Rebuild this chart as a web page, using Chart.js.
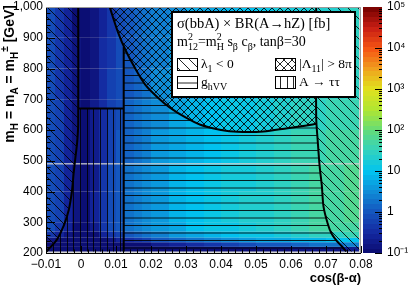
<!DOCTYPE html>
<html>
<head>
<meta charset="utf-8">
<script src="https://cdn.jsdelivr.net/npm/chart.js@4.4.1/dist/chart.umd.min.js"></script>
<style>
html, body { margin: 0; padding: 0; background: #fff; }
</style>
</head>
<body>
<canvas id="myChart" width="411" height="288"></canvas>
<script>
// bin edges of the heat map
const xEdges = [-0.01, -0.0075, -0.005, -0.0025, 0, 0.0025, 0.005, 0.0075, 0.01, 0.0125, 0.015, 0.0175,
  0.02, 0.025, 0.03, 0.035, 0.04, 0.045, 0.05, 0.055, 0.06, 0.065, 0.07, 0.075, 0.0795]
const massLow = [205, 220, 235, 250, 270, 300, 400, 492, 600, 700, 800, 900]
const massHigh = [220, 235, 250, 270, 300, 400, 488, 600, 700, 800, 900, 1000]

// sigma(bbA) x BR(A->hZ) in fb, one row per mass bin
const sigmaFb = [
  [0.1,0.1,0.1,0.1,0.1,0.1,0.1,0.1,0.1,0.1,0.1,0.1,0.1,0.1,0.1,0.1,0.1,0.11,0.12,0.13,0.14,0.15,0.17,0.18],
  [0.1,0.1,0.1,0.1,0.1,0.1,0.1,0.1,0.1,0.1,0.1,0.13,0.18,0.27,0.38,0.5,0.64,0.8,0.98,1.2,1.4,1.6,1.9,2.1],
  [0.16,0.1,0.1,0.1,0.1,0.1,0.1,0.16,0.24,0.36,0.48,0.64,0.92,1.4,1.9,2.5,3.2,4,4.9,5.9,7,8.1,9.4,10.6],
  [0.5,0.3,0.15,0.1,0.1,0.13,0.25,0.43,0.66,1,1.3,1.8,2.5,3.7,5.2,6.9,8.8,11,13.5,17,23,27,31,35],
  [0.8,0.5,0.25,0.12,0.1,0.21,0.4,0.7,1.1,1.6,2.2,2.9,4.1,6.1,8.6,11.3,14.4,18,22.1,29,38,44,51,57],
  [0.9,0.55,0.3,0.15,0.11,0.23,0.45,0.78,1.2,1.8,2.4,3.2,4.6,6.8,9.5,12.6,16,20,24.6,32,42,49,56,64],
  [0.9,0.55,0.3,0.15,0.1,0.22,0.43,0.74,1.1,1.7,2.3,3,4.4,6.5,9,12,15.2,19,23.4,31,40,46,54,60],
  [0.9,0.55,0.3,0.15,0.1,0.2,0.38,0.66,1,1.5,2,2.7,3.9,5.8,8.1,10.7,13.6,17,20.9,27,36,41,48,54],
  [0.9,0.55,0.3,0.15,0.1,0.18,0.35,0.6,0.9,1.3,1.7,2.3,3.3,4.9,6.8,9.1,11.5,14.4,17.7,22,27,31,35,39],
  [0.85,0.52,0.28,0.14,0.1,0.17,0.33,0.56,0.8,1.2,1.5,2,2.9,4.2,5.9,7.8,9.9,12.4,15.3,18.3,21.6,25.2,29.1,32.9],
  [0.85,0.5,0.27,0.14,0.1,0.16,0.31,0.52,0.75,1.1,1.4,1.8,2.5,3.7,5.2,6.9,8.8,11,13.5,16.2,19.2,22.3,25.8,29.2],
  [0.8,0.5,0.26,0.13,0.1,0.15,0.3,0.5,0.7,1,1.3,1.6,2.3,3.4,4.8,6.3,8,10,12.3,14.8,17.5,20.3,23.5,26.5]
]

// excluded regions, as [cos(b-a), mass] points
const lambdaLeftEdge = [[-0.0008,1000],[-0.0008,620],[-0.0011,560],[-0.0016,510],[-0.0021,460],[-0.0026,400],
  [-0.0035,340],[-0.0049,290],[-0.0068,245],[-0.0088,218],[-0.0098,205]]
const lambdaRightEdge = [[0.0672,1000],[0.0672,640],[0.0676,570],[0.0682,480],[0.0688,420],[0.0693,350],
  [0.0705,295],[0.0715,265],[0.073,240],[0.0745,222],[0.0758,205]]
const unitarityEdge = [[0.0082,1000],[0.0105,920],[0.0127,860],[0.0155,800],[0.0184,747],[0.022,705],
  [0.0255,672],[0.03,640],[0.0341,617],[0.04,600],[0.0447,594],[0.0521,595],[0.059,606],[0.064,614],[0.0672,620]]
const tautauTop = 670
const tautauRight = 0.0122
const ghvvTop = 870

const xTicks = [-0.01, 0, 0.01, 0.02, 0.03, 0.04, 0.05, 0.06, 0.07, 0.08]
const yTicks = [200, 300, 400, 500, 600, 700, 800, 900, 1000]
const zTicks = [0.1, 1, 10, 100, 1000, 10000, 100000]
const zLabels = ['10\u207B\u00B9', '1', '10', '10\u00B2', '10\u00B3', '10\u2074', '10\u2075']

const paletteStops = [[10,10,110],[20,40,160],[20,85,190],[15,140,215],[0,195,240],[50,210,190],[100,220,120],
  [175,230,50],[225,225,30],[240,160,30],[245,85,20],[200,30,20],[115,0,0]]
const nLevels = 50

function levelColour(level) {
  const g = (level + 0.5) / nLevels * (paletteStops.length - 1)
  const i = Math.floor(g), t = g - i
  const a = paletteStops[i], b = paletteStops[Math.min(i + 1, paletteStops.length - 1)]
  return 'rgb(' + a.map((c, k) => Math.round(c + (b[k] - c) * t)).join(',') + ')'
}
function colourFor(v) {
  const f = (Math.log10(v) + 1) / 6
  return levelColour(Math.min(nLevels - 1, Math.max(0, Math.floor(f * nLevels))))
}

function makePattern(kind) {
  const c = document.createElement('canvas')
  const g = c.getContext('2d')
  if (kind === 'diag') { c.width = 10; c.height = 10 }
  if (kind === 'cross') { c.width = 8; c.height = 8 }
  if (kind === 'horiz') { c.width = 4; c.height = 15 }
  if (kind === 'vert') { c.width = 20; c.height = 4 }
  g.strokeStyle = 'rgba(0,0,0,0.85)'
  g.lineWidth = 1
  g.beginPath()
  const w = c.width
  if (kind === 'diag' || kind === 'cross') {
    g.moveTo(-1, -1); g.lineTo(w + 1, w + 1)
    g.moveTo(w - 1, -1); g.lineTo(w + 1, 1)
    g.moveTo(-1, w - 1); g.lineTo(1, w + 1)
  }
  if (kind === 'cross') {
    g.moveTo(w + 1, -1); g.lineTo(-1, w + 1)
    g.moveTo(1, -1); g.lineTo(-1, 1)
    g.moveTo(w + 1, w - 1); g.lineTo(w - 1, w + 1)
  }
  if (kind === 'horiz') { g.moveTo(0, 0.5); g.lineTo(4, 0.5); g.moveTo(0, 8); g.lineTo(4, 8) }
  if (kind === 'vert') { [0.5, 7.5, 13.5].forEach(x => { g.moveTo(x, 0); g.lineTo(x, 4) }) }
  g.stroke()
  return g.createPattern(c, 'repeat')
}

// draws a list of [text, mode] parts; mode 0 normal, 1 superscript, -1 subscript, [sup, sub] stacked
function richText(ctx, parts, x, y, size, family, weight, measureOnly) {
  let cx = x
  const small = Math.round(size * 0.72)
  for (const [t, mode] of parts) {
    if (Array.isArray(mode)) {
      ctx.font = weight + ' ' + small + 'px ' + family
      const w = Math.max(ctx.measureText(mode[0]).width, ctx.measureText(mode[1]).width)
      if (!measureOnly) {
        ctx.fillText(mode[0], cx, y - size * 0.42)
        ctx.fillText(mode[1], cx, y + size * 0.28)
      }
      cx += w
      continue
    }
    const s = mode === 0 ? size : small
    ctx.font = weight + ' ' + s + 'px ' + family
    if (!measureOnly) ctx.fillText(t, cx, y + (mode === 1 ? -size * 0.42 : mode === -1 ? size * 0.28 : 0))
    cx += ctx.measureText(t).width
  }
  return cx - x
}

const heatPlugin = {
  id: 'heat',
  beforeDatasetsDraw(chart) {
    const { ctx, chartArea: a, scales: { x, y } } = chart
    const px = v => x.getPixelForValue(v), py = v => y.getPixelForValue(v)
    ctx.save()
    ctx.fillStyle = '#d2d2d2'
    ctx.fillRect(a.left, a.top, a.right - a.left, a.bottom - a.top)
    sigmaFb.forEach((row, r) => {
      const y0 = py(massHigh[r]), y1 = py(massLow[r])
      row.forEach((v, c) => {
        const x0 = Math.round(px(xEdges[c])), x1 = Math.round(px(xEdges[c + 1]))
        ctx.fillStyle = colourFor(v)
        ctx.fillRect(x0, y0, x1 - x0, y1 - y0)
      })
    })
    ctx.beginPath()
    ctx.rect(a.left, a.top, a.right - a.left, a.bottom - a.top)
    ctx.clip()
    const path = pts => {
      ctx.beginPath()
      pts.forEach(([vx, vm], i) => i ? ctx.lineTo(px(vx), py(vm)) : ctx.moveTo(px(vx), py(vm)))
      ctx.closePath()
    }
    const lastU = unitarityEdge[unitarityEdge.length - 1]
    const regions = [
      ['diag', [[-0.01, 1000], ...lambdaLeftEdge, [-0.01, 205]]],
      ['diag', [...lambdaRightEdge, [0.0795, 205], [0.0795, 1000]]],
      ['cross', [...unitarityEdge, [lambdaRightEdge[0][0], 1000]]],
      ['horiz', [[tautauRight, 205], [tautauRight, ghvvTop], ...unitarityEdge.filter(p => p[0] > tautauRight),
        ...lambdaRightEdge.filter(p => p[1] < lastU[1])]],
      ['vert', [[lambdaLeftEdge[0][0], tautauTop], [tautauRight, tautauTop], [tautauRight, 205],
        ...lambdaLeftEdge.filter(p => p[1] < tautauTop).reverse()]]
    ]
    regions.forEach(([kind, pts]) => {
      path(pts)
      ctx.fillStyle = makePattern(kind)
      ctx.fill()
    })
    ctx.restore()
  },
  afterDraw(chart) {
    const { ctx, chartArea: a, scales: { x, y, z } } = chart
    ctx.save()
    // frame and ticks
    ctx.strokeStyle = '#000'
    ctx.lineWidth = 1
    ctx.beginPath()
    ctx.moveTo(a.left + 0.5, a.top); ctx.lineTo(a.left + 0.5, a.bottom + 0.5); ctx.lineTo(a.right, a.bottom + 0.5)
    for (let v = -0.01; v <= 0.0801; v += 0.002) {
      const p = Math.round(x.getPixelForValue(v)) + 0.5
      const major = Math.abs(v * 100 - Math.round(v * 100)) < 1e-6
      const len = major ? 7 : 3.5
      ctx.moveTo(p, a.bottom); ctx.lineTo(p, a.bottom - len)
    }
    for (let v = 200; v <= 1000; v += 20) {
      const p = Math.round(y.getPixelForValue(v)) + 0.5
      const len = v % 100 === 0 ? 9 : 4.5
      ctx.moveTo(a.left, p); ctx.lineTo(a.left + len, p)
    }
    ctx.stroke()
    ctx.strokeStyle = '#999'
    ctx.beginPath()
    ctx.moveTo(a.left, a.top + 0.5); ctx.lineTo(a.right - 0.5, a.top + 0.5); ctx.lineTo(a.right - 0.5, a.bottom)
    ctx.stroke()

    // colour bar
    const bx = a.right + 2, bw = 19
    for (let l = 0; l < nLevels; l++) {
      const t0 = z.getPixelForValue(Math.pow(10, -1 + (l + 1) * 6 / nLevels))
      const t1 = z.getPixelForValue(Math.pow(10, -1 + l * 6 / nLevels))
      ctx.fillStyle = levelColour(l)
      ctx.fillRect(bx, Math.floor(t0), bw, Math.ceil(t1) - Math.floor(t0))
    }
    ctx.strokeStyle = '#000'
    ctx.beginPath()
    for (let e = -1; e < 5; e++) {
      for (let m = 1; m < 10; m++) {
        const p = Math.round(z.getPixelForValue(m * Math.pow(10, e))) + 0.5
        const len = m === 1 ? 7 : 3
        ctx.moveTo(bx + bw, p); ctx.lineTo(bx + bw - len, p)
      }
    }
    ctx.stroke()

    // axis titles
    ctx.fillStyle = '#000'
    ctx.textBaseline = 'alphabetic'
    ctx.textAlign = 'left'
    const sans = 'Liberation Sans, Arial, sans-serif'
    const xt = [['cos(\u03B2-\u03B1)', 0]]
    const xw = richText(ctx, xt, 0, 0, 13, sans, 'bold', true)
    richText(ctx, xt, a.right - xw, 282, 13, sans, 'bold')
    const yt = [['m', 0], ['H', -1], [' = m', 0], ['A', -1], [' = m', 0], ['H', -1], ['\u00B1', 1], [' [GeV]', 0]]
    const yw = richText(ctx, yt, 0, 0, 14, sans, 'bold', true)
    ctx.translate(14, 0)
    ctx.rotate(-Math.PI / 2)
    richText(ctx, yt, -5 - yw, 0, 14, sans, 'bold')
    ctx.setTransform(1, 0, 0, 1, 0, 0)

    // legend
    const lx = 172, ly = 12, lw = 183, lh = 85
    ctx.fillStyle = '#fff'
    ctx.fillRect(lx, ly, lw, lh)
    ctx.lineWidth = 2
    ctx.strokeRect(lx, ly, lw, lh)
    ctx.fillStyle = '#000'
    const serif = 'Liberation Serif, Times New Roman, serif'
    richText(ctx, [['\u03C3(bbA) \u00D7 BR(A\u2192hZ) [fb]', 0]], 177, 28, 14.5, serif, 'normal')
    richText(ctx, [['m', 0], ['', ['2', '12']], ['=m', 0], ['', ['2', 'H']], [' s', 0], ['\u03B2', -1], [' c', 0],
      ['\u03B2', -1], [', tan\u03B2=30', 0]], 177, 46, 14, serif, 'normal')
    const entries = [
      ['diag', 177, 58, [['\u03BB', 0], ['1', -1], [' < 0', 0]]],
      ['cross', 275, 58, [['|\u039B', 0], ['11', -1], ['| > 8\u03C0', 0]]],
      ['horiz', 177, 76, [['g', 0], ['hVV', -1]]],
      ['vert', 275, 76, [['A \u2192 \u03C4\u03C4', 0]]]
    ]
    ctx.lineWidth = 1
    entries.forEach(([kind, ex, ey, txt]) => {
      ctx.fillStyle = '#fff'
      ctx.fillRect(ex, ey, 20, 12)
      ctx.fillStyle = makePattern(kind)
      ctx.fillRect(ex, ey, 20, 12)
      ctx.strokeRect(ex + 0.5, ey + 0.5, 20, 12)
      ctx.fillStyle = '#000'
      richText(ctx, txt, ex + 24, ey + 10, 13.5, serif, 'normal')
    })
    ctx.restore()
  }
}

const lineData = [
  lambdaLeftEdge,
  lambdaRightEdge,
  unitarityEdge,
  [[lambdaLeftEdge[0][0], tautauTop], [tautauRight, tautauTop]],
  [[tautauRight, ghvvTop], [tautauRight, 205]]
]

// chart area is placed by hand, so drop the label overhang padding
const noPad = s => { s.paddingTop = 0; s.paddingBottom = 0; s.paddingLeft = 0; s.paddingRight = 0 }
const axisFont = { family: 'Liberation Sans, Arial, sans-serif', size: 12 }

const canvas = document.getElementById('myChart')
const myChart = new Chart(canvas, {
  type: 'scatter',
  data: {
    datasets: lineData.map(pts => ({
      data: pts.map(([vx, vm]) => ({ x: vx, y: vm })),
      showLine: true,
      pointRadius: 0,
      borderColor: '#000',
      borderWidth: 2,
      tension: 0.3
    }))
  },
  options: {
    responsive: false,
    animation: false,
    devicePixelRatio: 1,
    layout: { padding: { top: 7, left: 0, right: 0, bottom: 0 } },
    plugins: { legend: { display: false }, tooltip: { enabled: false } },
    scales: {
      x: {
        type: 'linear', min: -0.01, max: 0.08,
        afterBuildTicks: s => { s.ticks = xTicks.map(v => ({ value: v })) },
        afterFit: s => { s.height = 35; noPad(s) },
        grid: { display: false, drawTicks: false },
        border: { display: false },
        ticks: {
          autoSkip: false, maxRotation: 0, padding: 4, color: '#000', font: axisFont,
          callback: v => v === 0 ? '0' : (v < 0 ? '\u2212' + Math.abs(v).toFixed(2) : v.toFixed(2))
        }
      },
      y: {
        type: 'linear', min: 200, max: 1000,
        afterBuildTicks: s => { s.ticks = yTicks.map(v => ({ value: v })) },
        afterFit: s => { s.width = 46; noPad(s) },
        grid: { display: false, drawTicks: false },
        border: { display: false },
        ticks: { autoSkip: false, padding: 3, color: '#000', font: axisFont }
      },
      z: {
        type: 'logarithmic', position: 'right', min: 0.1, max: 100000,
        afterBuildTicks: s => { s.ticks = zTicks.map(v => ({ value: v })) },
        afterFit: s => { s.width = 50; noPad(s) },
        grid: { display: false, drawTicks: false },
        border: { display: false },
        ticks: {
          autoSkip: false, padding: 26, color: '#000', font: axisFont,
          callback: (v, i) => zLabels[i]
        }
      }
    }
  },
  plugins: [heatPlugin]
})
</script>
</body>
</html>
